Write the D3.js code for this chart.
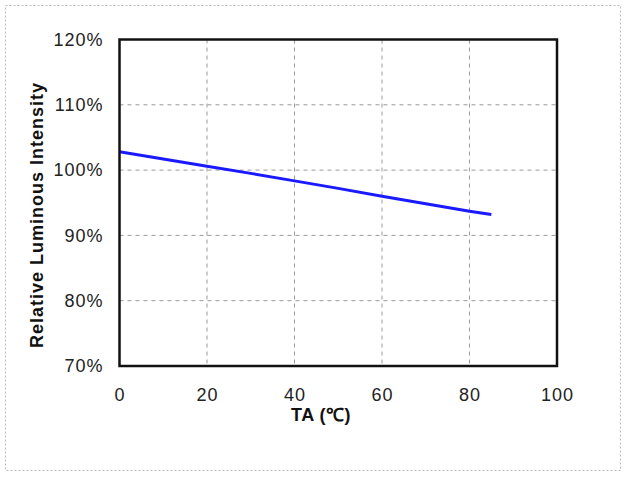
<!DOCTYPE html>
<html><head><meta charset="utf-8">
<script src="https://cdn.jsdelivr.net/npm/d3@7"></script>
<style>body{margin:0;background:#fff}svg{display:block}</style>
</head><body><svg id="c" width="625" height="477"></svg>
<script>
const temps = [0, 10, 20, 30, 40, 50, 60, 70, 80, 85];
const intensity = [102.8, 101.7, 100.6, 99.5, 98.35, 97.2, 96.0, 94.85, 93.7, 93.2];
const xTicks = [0, 20, 40, 60, 80, 100];
const yTicks = [70, 80, 90, 100, 110, 120];

const svg = d3.select("#c");
const L = 119.5, R = 557, T = 39.5, B = 366;
const x = d3.scaleLinear().domain([0, 100]).range([L, R]);
const y = d3.scaleLinear().domain([70, 120]).range([B, T]);
const font = "'Liberation Sans', Arial, sans-serif";

// outer dotted border
svg.append("rect").attr("x", 5.5).attr("y", 5.5).attr("width", 615).attr("height", 465)
  .attr("fill", "none").attr("stroke", "#bbb").attr("stroke-width", 1).attr("stroke-dasharray", "2,2");

// grid
svg.append("g").selectAll("line").data(xTicks.slice(1, -1)).join("line")
  .attr("x1", d => x(d)).attr("x2", d => x(d)).attr("y1", T).attr("y2", B)
  .attr("stroke", "#999").attr("stroke-width", 1).attr("stroke-dasharray", "4,4");
svg.append("g").selectAll("line").data(yTicks.slice(1, -1)).join("line")
  .attr("y1", d => y(d)).attr("y2", d => y(d)).attr("x1", L).attr("x2", R)
  .attr("stroke", "#999").attr("stroke-width", 1).attr("stroke-dasharray", "4,4");

// axes labels via d3 axes
const xAxis = svg.append("g").attr("transform", `translate(0,${B})`)
  .call(d3.axisBottom(x).tickValues(xTicks).tickSize(0).tickPadding(22));
const yAxis = svg.append("g").attr("transform", `translate(${L},0)`)
  .call(d3.axisLeft(y).tickValues(yTicks).tickSize(0).tickPadding(16).tickFormat(d => d + "%"));
[xAxis, yAxis].forEach(a => {
  a.select(".domain").remove();
  a.selectAll("text").attr("font-family", font).attr("font-size", 18)
    .attr("letter-spacing", 1).attr("fill", "#222");
});

// line
svg.append("path").datum(temps.map((t, i) => [t, intensity[i]]))
  .attr("d", d3.line().x(d => x(d[0])).y(d => y(d[1])))
  .attr("fill", "none").attr("stroke", "#1a1aff").attr("stroke-width", 3);

// frame
svg.append("rect").attr("x", L).attr("y", T).attr("width", R - L).attr("height", B - T)
  .attr("fill", "none").attr("stroke", "#111").attr("stroke-width", 2.5);

// titles
svg.append("text").attr("x", 321).attr("y", 421).attr("text-anchor", "middle")
  .attr("font-family", font).attr("font-size", 18).attr("font-weight", "bold").attr("fill", "#111")
  .attr("letter-spacing", 0.5).text("TA (℃)");
svg.append("text").attr("transform", `translate(43,215) rotate(-90)`)
  .attr("text-anchor", "middle").attr("font-family", font).attr("font-size", 18)
  .attr("font-weight", "bold").attr("fill", "#111").attr("letter-spacing", 1)
  .text("Relative Luminous Intensity");
</script></body></html>
